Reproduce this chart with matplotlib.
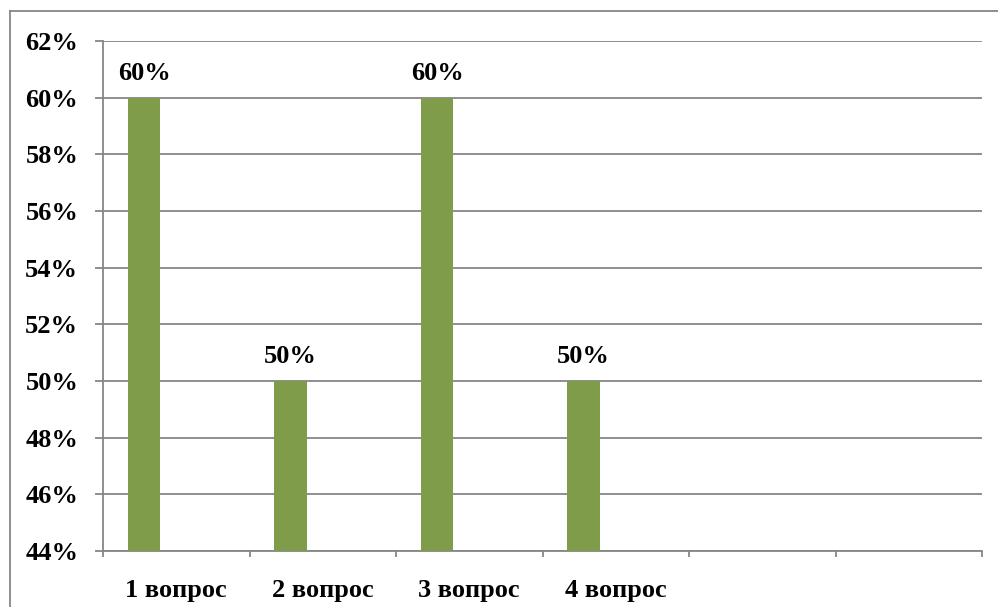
import numpy as np
import matplotlib.pyplot as plt
from matplotlib.lines import Line2D
from matplotlib.ticker import FuncFormatter

# Данные
categories = ['1 вопрос', '2 вопрос', '3 вопрос', '4 вопрос', '', '']
values = [0.60, 0.50, 0.60, 0.50, None, None]
y_ticks = np.arange(0.44, 0.621, 0.02)

W, H = 998, 607
fig = plt.figure(figsize=(W / 100, H / 100), dpi=100)
fig.patch.set_facecolor('white')

# Область графика в пикселях
left, right, top, bottom = 103, 982, 41, 551
ax = fig.add_axes([left / W, 1 - bottom / H, (right - left) / W, (bottom - top) / H])

font = {'family': 'Liberation Serif', 'weight': 'bold', 'size': 19}
grid_color = '#868686'
bar_color = '#7f9c4a'

n = len(categories)
x = np.arange(n)
bar_w = 0.22
for i, v in enumerate(values):
    if v is None:
        continue
    ax.bar(x[i] - bar_w, v, width=bar_w, color=bar_color, zorder=3)
    ax.text(x[i] - bar_w, v + 0.0063, f'{round(v * 100)}%', ha='center', va='baseline',
            fontdict=font, zorder=4)

ax.set_xlim(-0.5, n - 0.5)
ax.set_ylim(0.44, 0.62)
ax.set_yticks(y_ticks)
ax.yaxis.set_major_formatter(FuncFormatter(lambda v, p: f'{round(v * 100)}%'))
ax.grid(True, axis='y', color=grid_color, linewidth=1.3, zorder=1)

# Деления по оси x на границах категорий
ax.set_xticks(np.arange(-0.5, n, 1.0))
ax.set_xticklabels([])
ax.set_xticks(x, minor=True)
ax.set_xticklabels(categories, minor=True, fontdict=font)
ax.tick_params(axis='x', which='minor', length=0, pad=20)
ax.tick_params(axis='x', which='major', length=4.5, color=grid_color, width=1.3)
ax.tick_params(axis='y', length=5.8, color=grid_color, width=1.3, pad=12)
for label in ax.get_yticklabels():
    label.set_fontproperties('Liberation Serif')
    label.set_fontweight('bold')
    label.set_fontsize(19)

for s in ['top', 'right']:
    ax.spines[s].set_visible(False)
for s in ['left', 'bottom']:
    ax.spines[s].set_color(grid_color)
    ax.spines[s].set_linewidth(1.3)

# Рамка вокруг диаграммы
fig.add_artist(Line2D([10 / W, 1], [1 - 11 / H, 1 - 11 / H], color=grid_color, linewidth=1.3))
fig.add_artist(Line2D([10 / W, 10 / W], [0, 1 - 11 / H], color=grid_color, linewidth=1.3))

fig.savefig('out.png', dpi=100)
